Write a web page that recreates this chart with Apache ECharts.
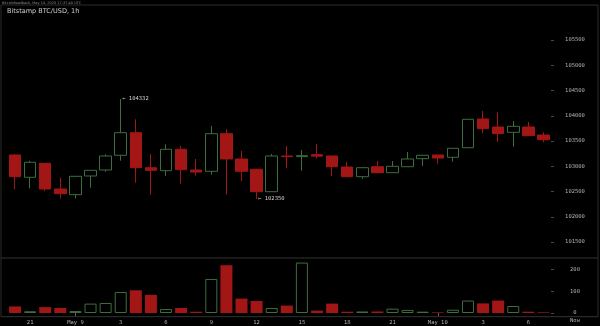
<!DOCTYPE html>
<html>
<head>
<meta charset="utf-8">
<script src="https://cdn.jsdelivr.net/npm/echarts@6/dist/echarts.min.js"></script>
<style>
html,body{margin:0;padding:0;background:#000;}
#chartDiv{width:600px;height:326px;}
</style>
</head>
<body>
<div id="chartDiv"></div>
<script>
// hourly candles, May 8 20:00 -> May 10 07:00
var hours = ['20','21','22','23','May 9','1','2','3','4','5','6','7','8','9','10','11','12','13',
	'14','15','16','17','18','19','20','21','22','23','May 10','1','2','3','4','5','6','7'];
var opens  = [103223,102781,103058,102550,102437,102807,102926,103217,103664,102971,102912,103336,
	102926,102900,103645,103144,102940,102496,103203,103190,103230,103203,102985,102793,
	102991,102872,102991,103150,103223,103177,103367,103936,103777,103672,103777,103619];
var closes = [102793,103078,102550,102457,102801,102920,103203,103664,102971,102920,103336,102932,
	102886,103645,103144,102900,102496,103203,103190,103210,103200,102991,102793,102971,
	102872,102999,103144,103217,103163,103355,103930,103744,103645,103791,103605,103526];
var lows   = [102544,102563,102510,102358,102365,102575,102892,103110,102674,102437,102807,102655,
	102813,102833,102437,102708,102350,102490,102959,102912,103157,102807,102785,102753,
	102865,102865,102985,103005,103051,103090,103360,103652,103486,103387,103600,103474];
var highs  = [103243,103110,103065,102773,102810,102925,103237,104332,103930,103243,103435,103401,
	103144,103797,103738,103302,102950,103243,103401,103322,103440,103210,103084,102975,
	103104,103104,103282,103220,103225,103360,103935,104094,104068,103896,103876,103672];
var volumes = [30,8,27,23,9,43,46,96,104,83,18,23,6,156,219,66,55,23,34,231,
	11,43,6,7,7,20,14,6,3,15,57,44,57,32,6,3];

var upColor = '#3d6e3d';
var downColor = '#a31616';
var axisFont = {color:'#b0b0b0', fontSize:5.5, fontFamily:'DejaVu Sans Mono'};
var plainNum = function(v){ return String(v); };

var candleData = opens.map(function(o, i){ return [o, closes[i], lows[i], highs[i]]; });
var volData = volumes.map(function(v, i){
	if (closes[i] >= opens[i]) {
		return {value:v, itemStyle:{color:'#000', borderColor:upColor, borderWidth:1}};
	}
	return {value:v, itemStyle:{color:downColor}};
});

var chart = echarts.init(document.getElementById('chartDiv'));

var option = {
	backgroundColor:'#000',
	animation:false,
	title:{
		text:'Bitstamp BTC/USD, 1h',
		left:7, top:7.5, padding:0,
		textStyle:{color:'#d0d0d0', fontSize:6.5, fontWeight:'normal', fontFamily:'DejaVu Sans'}
	},
	grid:[
		{left:7.5, width:543.5, top:14.75, height:252.5},
		{left:7.5, width:543.5, top:258, height:55}
	],
	xAxis:[
		{type:'category', gridIndex:0, data:hours, show:false},
		{
			type:'category', gridIndex:1, data:hours, offset:3.7,
			axisLine:{show:false},
			axisTick:{show:true, alignWithLabel:true, length:3,
				interval:function(i, v){ return String(v).indexOf('May') === 0; },
				lineStyle:{color:'#666'}},
			axisLabel:Object.assign({margin:2.5,
				interval:function(i){ return (i - 1) % 3 === 0; }}, axisFont)
		}
	],
	yAxis:[
		{
			type:'value', gridIndex:0, position:'right',
			min:101000, max:106000, interval:500,
			splitLine:{show:false}, axisLine:{show:false},
			axisTick:{show:true, length:3, lineStyle:{color:'#4a4a4a'}},
			axisLabel:Object.assign({showMinLabel:false, showMaxLabel:false, align:'center', margin:24,
				formatter:plainNum}, axisFont)
		},
		{
			type:'value', gridIndex:1, position:'right',
			min:0, max:252, interval:100,
			splitLine:{show:false}, axisLine:{show:false},
			axisTick:{show:true, length:3, lineStyle:{color:'#4a4a4a'}},
			axisLabel:Object.assign({showMaxLabel:false, align:'center', margin:24,
				formatter:plainNum}, axisFont)
		}
	],
	series:[
		{
			name:'BTC/USD', type:'candlestick',
			xAxisIndex:0, yAxisIndex:0,
			barWidth:12,
			data:candleData,
			itemStyle:{color:'#000', color0:downColor, borderColor:upColor, borderColor0:downColor, borderWidth:1},
			markPoint:{
				symbol:'circle', symbolSize:1,
				itemStyle:{color:'rgba(0,0,0,0)'},
				label:Object.assign({show:true, position:'right', distance:1,
					formatter:function(p){ return '\u2190 ' + p.value; }}, axisFont, {color:'#d0d0d0'}),
				data:[
					{type:'max', valueDim:'highest'},
					{type:'min', valueDim:'lowest'}
				]
			}
		},
		{
			name:'Volume', type:'bar',
			xAxisIndex:1, yAxisIndex:1,
			barWidth:12,
			data:volData
		}
	],
	graphic:[
		{type:'text', left:2, top:1, style:{text:'Bitcoinfeedback, May 10, 2025 17:37:40 UTC', fill:'#8a8a8a', fontSize:3.5, fontFamily:'DejaVu Sans'}},
		{type:'line', shape:{x1:1, y1:5, x2:598, y2:5}, style:{stroke:'#2c2c2c', lineWidth:1}},
		{type:'line', shape:{x1:1, y1:5, x2:1, y2:316.7}, style:{stroke:'#2c2c2c', lineWidth:1}},
		{type:'line', shape:{x1:598, y1:5, x2:598, y2:316.7}, style:{stroke:'#2c2c2c', lineWidth:1}},
		{type:'line', shape:{x1:1, y1:258, x2:598, y2:258}, style:{stroke:'#333', lineWidth:1}},
		{type:'line', shape:{x1:1, y1:316.7, x2:598, y2:316.7}, style:{stroke:'#333', lineWidth:1}},
		{type:'text', x:575, y:321, style:{text:'Now', align:'center', verticalAlign:'middle',
			fill:'#b0b0b0', fontSize:5.5, fontFamily:'DejaVu Sans Mono'}}
	]
};

chart.setOption(option);
</script>
</body>
</html>
